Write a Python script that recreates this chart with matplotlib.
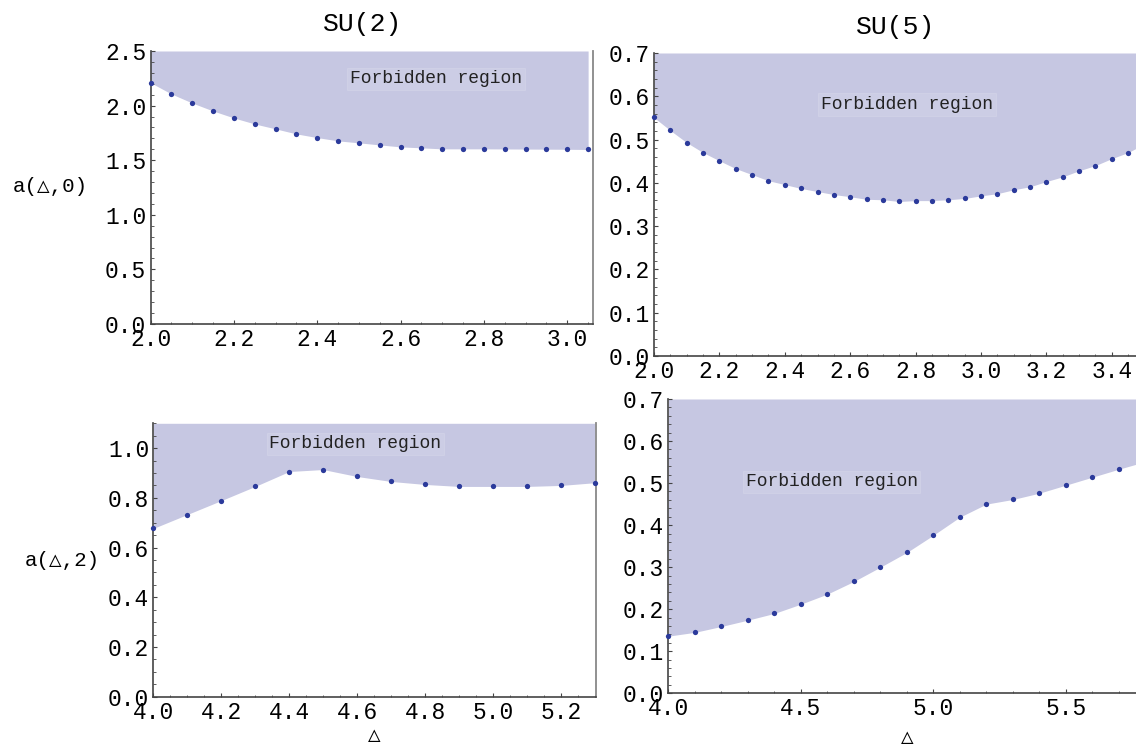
import numpy as np
import matplotlib.pyplot as plt
from matplotlib.ticker import MultipleLocator, FormatStrFormatter

plt.rcParams['font.family'] = ['Liberation Mono', 'DejaVu Sans Mono']

# SU(2), l = 0
su2_d0 = [2.00, 2.05, 2.10, 2.15, 2.20, 2.25, 2.30, 2.35, 2.40, 2.45, 2.50,
          2.55, 2.60, 2.65, 2.70, 2.75, 2.80, 2.85, 2.90, 2.95, 3.00, 3.05]
su2_a0 = [2.21, 2.107, 2.024, 1.951, 1.887, 1.832, 1.787, 1.741, 1.707, 1.677, 1.659,
          1.640, 1.622, 1.613, 1.604, 1.604, 1.604, 1.603, 1.602, 1.601, 1.600, 1.598]

# SU(5), l = 0 (last point lies just past the visible edge)
su5_d0 = [2.00, 2.05, 2.10, 2.15, 2.20, 2.25, 2.30, 2.35, 2.40, 2.45, 2.50,
          2.55, 2.60, 2.65, 2.70, 2.75, 2.80, 2.85, 2.90, 2.95, 3.00, 3.05,
          3.10, 3.15, 3.20, 3.25, 3.30, 3.35, 3.40, 3.45, 3.50]
su5_a0 = [0.551, 0.521, 0.493, 0.470, 0.451, 0.433, 0.419, 0.405, 0.396, 0.387, 0.380,
          0.373, 0.368, 0.362, 0.361, 0.357, 0.359, 0.359, 0.361, 0.364, 0.370, 0.375,
          0.384, 0.391, 0.403, 0.414, 0.428, 0.440, 0.456, 0.470, 0.490]

# SU(2), l = 2
su2_d2 = [4.0, 4.1, 4.2, 4.3, 4.4, 4.5, 4.6, 4.7, 4.8, 4.9, 5.0, 5.1, 5.2, 5.3]
su2_a2 = [0.677, 0.733, 0.789, 0.846, 0.906, 0.914, 0.886, 0.866, 0.854, 0.846,
          0.846, 0.846, 0.850, 0.861]

# SU(5), l = 2 (last point lies just past the visible edge)
su5_d2 = [4.0, 4.1, 4.2, 4.3, 4.4, 4.5, 4.6, 4.7, 4.8, 4.9, 5.0, 5.1, 5.2, 5.3,
          5.4, 5.5, 5.6, 5.7, 5.8]
su5_a2 = [0.136, 0.145, 0.159, 0.174, 0.190, 0.212, 0.236, 0.266, 0.300, 0.335,
          0.376, 0.419, 0.450, 0.461, 0.476, 0.495, 0.514, 0.533, 0.551]

W, H = 1136, 747
fill_col = '#c6c7e2'
dot_col = '#2b3a9b'
axis_col = '#444444'


def px_axes(fig, left, top, right, bottom):
    return fig.add_axes([left / W, 1 - bottom / H, (right - left) / W, (bottom - top) / H])


def panel(ax, x, y, xlim, ylim, xmaj, xmin, ymaj, ymin, label_xy, right_spine):
    x = np.array(x)
    y = np.array(y)
    ax.fill_between(x, y, ylim[1], color=fill_col, lw=0, zorder=1)
    keep = x <= xlim[1] + 1e-9
    ax.plot(x[keep], y[keep], 'o', ms=3.8, color=dot_col, mec='none', zorder=3, clip_on=False)
    ax.set_xlim(*xlim)
    ax.set_ylim(*ylim)
    ax.xaxis.set_major_locator(MultipleLocator(xmaj))
    ax.xaxis.set_minor_locator(MultipleLocator(xmin))
    ax.yaxis.set_major_locator(MultipleLocator(ymaj))
    ax.yaxis.set_minor_locator(MultipleLocator(ymin))
    ax.xaxis.set_major_formatter(FormatStrFormatter('%.1f'))
    ax.yaxis.set_major_formatter(FormatStrFormatter('%.1f'))
    ax.tick_params(which='major', direction='in', length=3, width=0.8, color=axis_col,
                   labelsize=16.5, pad=3)
    ax.tick_params(which='minor', direction='in', length=1.8, width=0.6, color=axis_col)
    ax.spines['top'].set_visible(False)
    for s in ('left', 'bottom'):
        ax.spines[s].set_color(axis_col)
        ax.spines[s].set_linewidth(1.2)
    if right_spine:
        ax.spines['right'].set_color('#888888')
        ax.spines['right'].set_linewidth(1.3)
    else:
        ax.spines['right'].set_visible(False)
    ax.text(label_xy[0], label_xy[1], 'Forbidden region', fontsize=13, ha='center', va='center',
            color='#222222', zorder=4,
            bbox=dict(boxstyle='square,pad=0.15', fc='white', ec='white', alpha=0.12, lw=0.8))


fig = plt.figure(figsize=(W / 100, H / 100), dpi=100)

ax1 = px_axes(fig, 150.5, 51, 592.7, 324)
panel(ax1, su2_d0, su2_a0, (2.0, 3.061), (0, 2.5), 0.2, 0.05, 0.5, 0.1, (2.685, 2.244), True)

ax2 = px_axes(fig, 654, 53, 1136, 356)
panel(ax2, su5_d0, su5_a0, (2.0, 3.474), (0, 0.7), 0.2, 0.05, 0.1, 0.02, (2.774, 0.581), False)

ax3 = px_axes(fig, 153.3, 423.3, 595.5, 696.7)
panel(ax3, su2_d2, su2_a2, (4.0, 5.302), (0, 1.1), 0.2, 0.05, 0.2, 0.05, (4.595, 1.017), True)

ax4 = px_axes(fig, 668.4, 399, 1136, 693.3)
panel(ax4, su5_d2, su5_a2, (4.0, 5.765), (0, 0.7), 0.5, 0.1, 0.1, 0.02, (4.616, 0.503), False)

fig.text(363 / W, 1 - 24 / H, 'SU(2)', fontsize=19, ha='center', va='center')
fig.text(896 / W, 1 - 27 / H, 'SU(5)', fontsize=19, ha='center', va='center')
fig.text(50 / W, 1 - 187 / H, 'a(△,0)', fontsize=15, ha='center', va='center')
fig.text(62 / W, 1 - 560 / H, 'a(△,2)', fontsize=15, ha='center', va='center')
fig.text(374 / W, 1 - 736 / H, '△', fontsize=15, ha='center', va='center')
fig.text(907 / W, 1 - 738 / H, '△', fontsize=15, ha='center', va='center')

fig.savefig('out.png', dpi=100)
